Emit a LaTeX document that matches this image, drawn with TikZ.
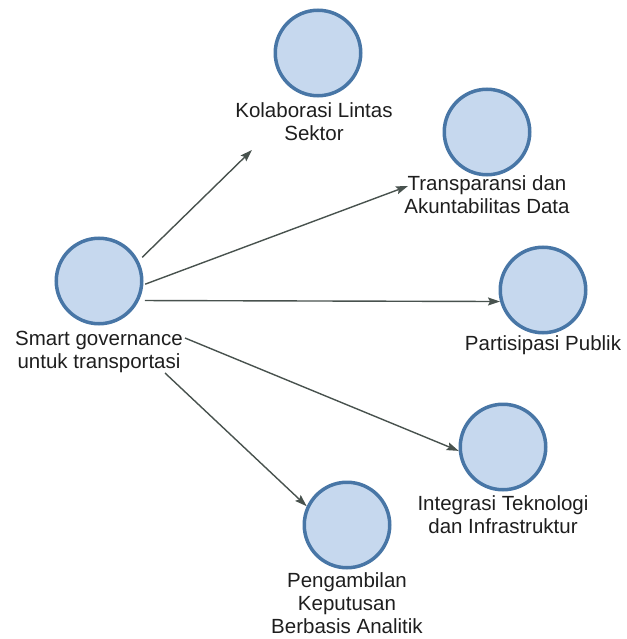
\documentclass[tikz,border=0pt]{standalone}
\usepackage{fontspec}
\setmainfont{Liberation Sans}
\usetikzlibrary{arrows.meta}
\definecolor{cfill}{RGB}{198,216,238}
\definecolor{cdraw}{RGB}{72,118,166}
\definecolor{cline}{RGB}{72,82,78}
\definecolor{ctext}{RGB}{30,30,30}
\begin{document}
\begin{tikzpicture}[x=1pt,y=-1pt,
  bubble/.style={circle,draw=cdraw,fill=cfill,line width=3.5pt,minimum size=85.5pt,inner sep=0pt},
  lbl/.style={align=center,font=\fontsize{20.5}{23}\selectfont,anchor=base,inner sep=0pt,text=ctext},
  conn/.style={draw=cline,line width=1.4pt,-{Stealth[length=12pt,width=8pt,inset=2pt]}}]
\useasboundingbox (0,0) rectangle (626,639);

\node[bubble] (hub) at (99,281) {};
\node[bubble] (kol) at (318,53) {};
\node[bubble] (tra) at (487,132) {};
\node[bubble] (par) at (543,290) {};
\node[bubble] (int) at (503,447) {};
\node[bubble] (pen) at (347,525) {};

% anchor=base is the baseline of the last line
\node[lbl] (hublab) at (99,368) {Smart governance\\untuk transportasi};
\node[lbl] (kollab) at (314,141) {Kolaborasi Lintas\\Sektor};
\node[lbl] (tralab) at (487,213) {Transparansi dan\\Akuntabilitas Data};
\node[lbl] (parlab) at (543,350) {Partisipasi Publik};
\node[lbl] (intlab) at (503,533) {Integrasi Teknologi\\dan Infrastruktur};
\node[lbl] (penlab) at (347,633) {Pengambilan\\Keputusan\\Berbasis Analitik};

\coordinate (kolend) at (252,150);
\coordinate (traend) at (408,186);
\coordinate (hubr) at (185,338);
\coordinate (hubb) at (165,373);

\draw[conn,shorten <=5pt] (hub.27) -- (kolend);
\draw[conn,shorten <=2pt] (hub.-5) -- (traend);
\draw[conn,shorten <=6pt] (hub.-26) -- (par.195);
\draw[conn] (hubr) -- (int.185);
\draw[conn] (hubb) -- (pen.155);
\end{tikzpicture}
\end{document}
